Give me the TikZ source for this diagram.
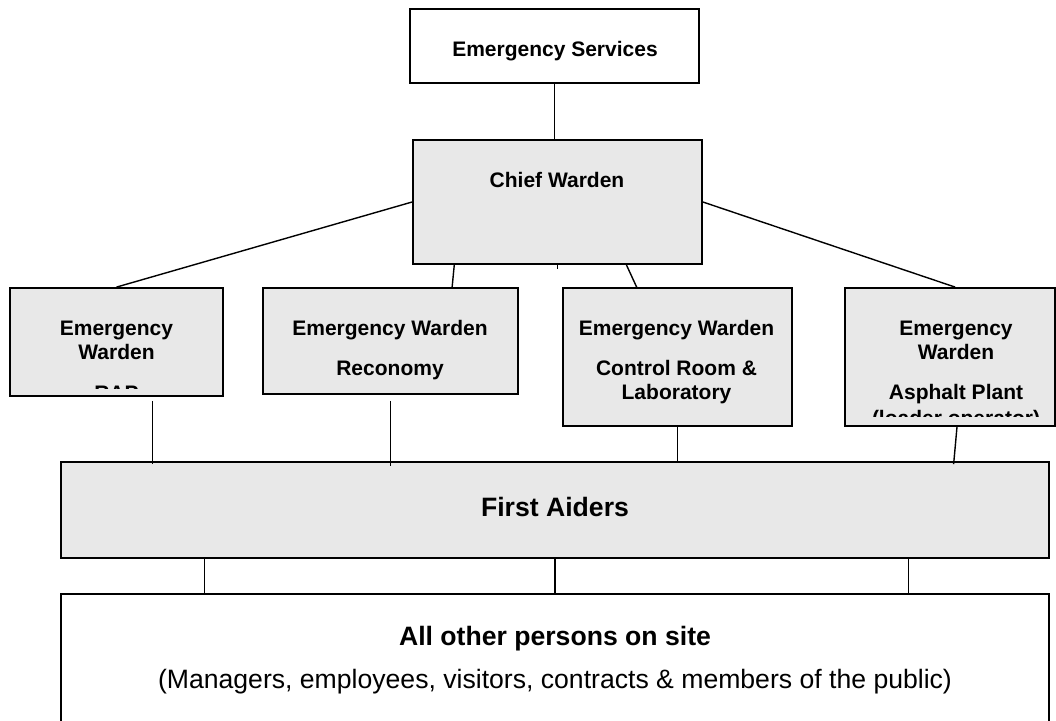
\documentclass[tikz,border=0pt]{standalone}
\usepackage{fontspec}
\setmainfont{Liberation Sans}
\usetikzlibrary{calc}
\definecolor{boxgray}{HTML}{E8E8E8}

\begin{document}
\begin{tikzpicture}[x=1pt,y=-1pt,
    box/.style={draw, line width=1.8pt, inner sep=0pt},
    graybox/.style={box, fill=boxgray},
    boxtext/.style={anchor=base, align=center, inner sep=0pt, font=\fontsize{21}{24}\selectfont\bfseries},
    bigtext/.style={anchor=base, align=center, inner sep=0pt, font=\fontsize{26.6}{30}\selectfont\bfseries},
    plaintext/.style={anchor=base, inner sep=0pt, font=\fontsize{26.6}{30}\selectfont},
    link/.style={line width=1.4pt}]
    \clip (0,0) rectangle (1056,720);

    % boxes
    \node[box, minimum width=289, minimum height=74] (es) at (554.5,46) {};
    \node[graybox, minimum width=289, minimum height=124] (cw) at (557.5,202) {};
    \node[graybox, minimum width=213, minimum height=108] (rap) at (116.5,342) {};
    \node[graybox, minimum width=255, minimum height=106] (rec) at (390.5,341) {};
    \node[graybox, minimum width=229, minimum height=138] (crl) at (677.5,357) {};
    \node[graybox, minimum width=210, minimum height=138] (asp) at (950,357) {};
    \node[graybox, minimum width=988, minimum height=96] (fa) at (555,510) {};
    \node[box, minimum width=988, minimum height=132] (all) at (555,660) {};

    % texts (base = last line)
    \node[boxtext] (es-t) at (555,56) {Emergency Services};
    \node[boxtext] (cw-t) at (557,187) {Chief Warden};
    \begin{scope}
      \clip (rap.north west) rectangle ($(rap.south east)+(0,-8)$);
      \node[boxtext] (rap-t) at (116.5,400) {Emergency\\Warden\\[17pt]RAP};
    \end{scope}
    \node[boxtext] (rec-t) at (390,375) {Emergency Warden\\[16pt]Reconomy};
    \node[boxtext] (crl-t) at (676.5,399) {Emergency Warden\\[16pt]Control Room \&\\Laboratory};
    \begin{scope}
      \clip (asp.north west) rectangle ($(asp.south east)+(0,-10)$);
      \node[boxtext] (asp-t) at (956,425) {Emergency\\Warden\\[16pt]Asphalt Plant\\[2pt](loader operator)};
    \end{scope}
    \node[bigtext] (fa-t) at (555,516) {First Aiders};
    \node[bigtext] (all-t) at (555,645) {All other persons on site};
    \node[plaintext] (all-s) at (555,688) {(Managers, employees, visitors, contracts \& members of the public)};

    % connectors
    \draw[link] (es.south) -- (es.south |- cw.north);
    \coordinate (stub) at ($(cw.south)+(0,4)$);
    \draw[link] (cw.south) -- (stub);
    \draw[link] (cw.west) -- (rap.north);
    \draw[link] ($(cw.south west)!0.145!(cw.south east)$) -- ($(rec.north west)!0.74!(rec.north east)$);
    \draw[link] ($(cw.south west)!0.737!(cw.south east)$) -- ($(crl.north west)!0.323!(crl.north east)$);
    \draw[link] (cw.east) -- ($(asp.north west)!0.524!(asp.north east)$);

    \draw[link, shorten <=4pt, shorten >=-3pt] ($(rap.south west)!0.667!(rap.south east)$) coordinate (rap-f) -- (rap-f |- fa.north);
    \draw[link, shorten <=6pt, shorten >=-5pt] (rec.south) -- (rec.south |- fa.north);
    \draw[link] (crl.south) -- (crl.south |- fa.north);
    \draw[link, shorten >=-3pt] ($(asp.south west)!0.533!(asp.south east)$) -- ($(fa.north west)!0.903!(fa.north east)$);

    \foreach \p in {0.146,0.5,0.857}
      \draw[link] ($(fa.south west)!\p!(fa.south east)$) -- ($(all.north west)!\p!(all.north east)$);
\end{tikzpicture}
\end{document}
